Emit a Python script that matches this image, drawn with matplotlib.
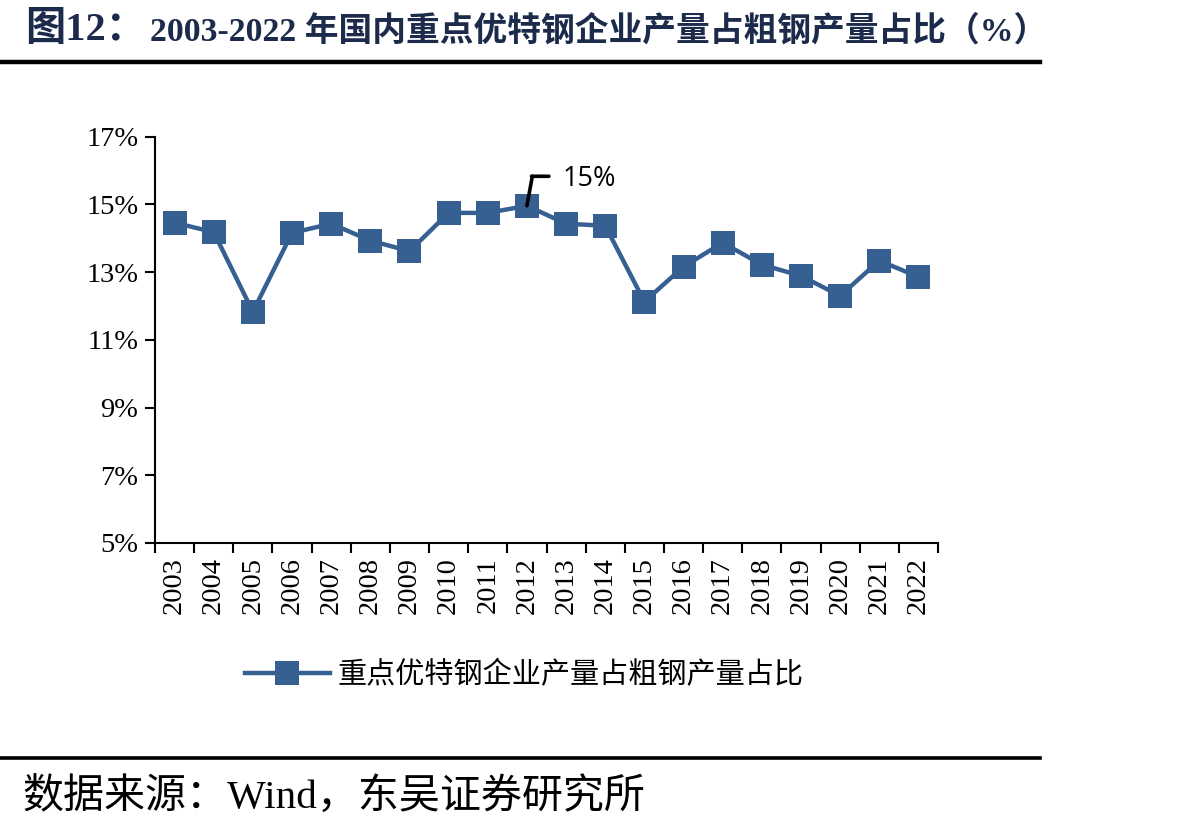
import matplotlib
matplotlib.use("Agg")
import matplotlib.pyplot as plt
from matplotlib.lines import Line2D
from matplotlib.transforms import offset_copy
import numpy as np

years = ["2003", "2004", "2005", "2006", "2007", "2008", "2009", "2010", "2011", "2012",
         "2013", "2014", "2015", "2016", "2017", "2018", "2019", "2020", "2021", "2022"]
share = [14.46, 14.18, 11.83, 14.16, 14.43, 13.93, 13.62, 14.75, 14.75, 14.96,
         14.43, 14.37, 12.13, 13.16, 13.87, 13.22, 12.89, 12.30, 13.34, 12.86]
yticks = [5, 7, 9, 11, 13, 15, 17]
series_name = "重点优特钢企业产量占粗钢产量占比"
title_prefix = "图12："
title_main = "2003-2022 年国内重点优特钢企业产量占粗钢产量占比（%）"
source_text = "数据来源：Wind，东吴证券研究所"
label_idx = 9
label_text = "15%"

BLUE = "#376092"
NAVY = "#1C2B4B"
SERIF = ["Liberation Serif", "Noto Sans CJK SC"]
CJK = ["Noto Sans CJK SC", "DejaVu Sans"]

plt.rcParams['font.family'] = SERIF

fig = plt.figure(figsize=(11.92, 8.31), dpi=100)
ax = fig.add_axes([155/1192, 1 - 543/831, (938-155)/1192, (543-136.7)/831])

x = np.arange(len(years))
ax.plot(x, share, color=BLUE, lw=3.2, marker='s', markersize=17, markeredgewidth=0,
        solid_joinstyle='round', zorder=3)

ax.set_xlim(-0.5, len(years) - 0.5)
ax.set_ylim(yticks[0], yticks[-1])
ax.set_yticks(yticks)
ax.set_yticklabels([f"{v}%" for v in yticks], fontsize=20.5, family=SERIF)
ax.set_xticks(x)
ax.set_xticklabels(years, rotation=90, fontsize=20.5, family=SERIF)
ax.set_xticks(np.arange(len(years) + 1) - 0.5, minor=True)
ax.tick_params(axis='x', which='major', length=0, pad=10)
ax.tick_params(axis='x', which='minor', length=7, width=1.5, direction='out')
ax.tick_params(axis='y', which='major', length=7, width=1.5, direction='out', pad=5)

for s in ['top', 'right']:
    ax.spines[s].set_visible(False)
for s in ['left', 'bottom']:
    ax.spines[s].set_linewidth(1.5)

# data label with leader line
xp, yp = x[label_idx], share[label_idx]
ax.annotate("", xy=(xp, yp), xycoords='data',
            xytext=(5.4 * 0.72, 29.5 * 0.72), textcoords='offset points',
            arrowprops=dict(arrowstyle='-', color='black', lw=2.6, shrinkA=0, shrinkB=0))
tr_a = offset_copy(ax.transData, fig=fig, x=4.6 * 0.72, y=29.5 * 0.72, units='points')
tr_b = offset_copy(ax.transData, fig=fig, x=22 * 0.72, y=29.5 * 0.72, units='points')
ax.annotate("", xy=(xp, yp), xycoords=tr_a, xytext=(xp, yp), textcoords=tr_b,
            arrowprops=dict(arrowstyle='-', color='black', lw=2.6, shrinkA=0, shrinkB=0))
ax.annotate(label_text, xy=(xp, yp), xycoords='data',
            xytext=(36 * 0.72, 27 * 0.72), textcoords='offset points',
            fontsize=19.5, family=["Open Sans", "DejaVu Sans"], va='center', ha='left')

# legend
handle = Line2D([], [], color=BLUE, lw=3.2, marker='s', markersize=17, markeredgewidth=0)
leg = fig.legend([handle], [series_name], loc='center left',
                 bbox_to_anchor=(245/1192, 1 - 675/831), frameon=False,
                 prop={'family': CJK, 'size': 21}, handlelength=2.9, handletextpad=0.28,
                 borderaxespad=0, borderpad=0)

# title
fig.text(25/1192, 1 - 30/831, title_prefix, fontsize=29, fontweight='bold', color=NAVY,
         family=SERIF, va='center', ha='left')
fig.text(150/1192, 1 - 31/831, title_main, fontsize=24.3, fontweight='bold', color=NAVY,
         family=SERIF, va='center', ha='left')

# rules
fig.add_artist(Line2D([0, 1040/1192], [1 - 62/831, 1 - 62/831], color='black', lw=3.2))
fig.add_artist(Line2D([0, 1040/1192], [1 - 758/831, 1 - 758/831], color='black', lw=2.6))

fig.text(22/1192, 1 - 798/831, source_text, fontsize=29.5, family=SERIF, color='black',
         va='center', ha='left')

fig.savefig("out.png", dpi=100, facecolor='white')
